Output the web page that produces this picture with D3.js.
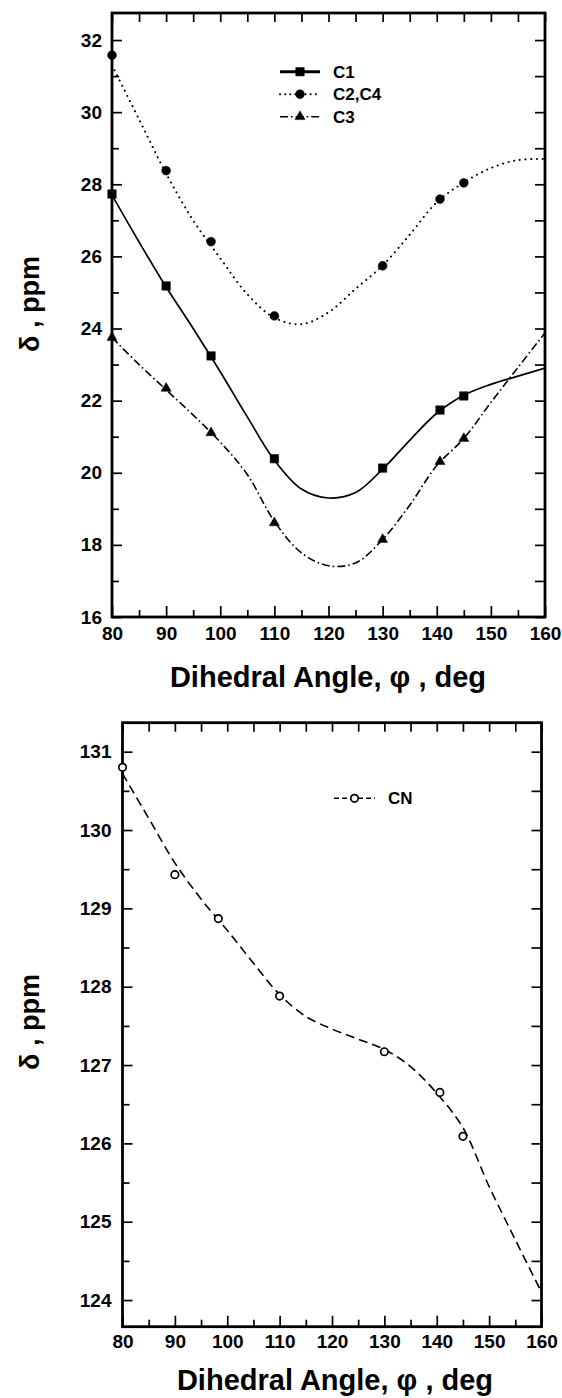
<!DOCTYPE html>
<html>
<head>
<meta charset="utf-8">
<script src="https://cdn.jsdelivr.net/npm/d3@7"></script>
<style>
  html, body { margin: 0; padding: 0; background: #fff; }
  svg { display: block; }
  text { font-family: "Liberation Sans", Arial, Helvetica, sans-serif; fill: #000; }
</style>
</head>
<body>
<svg id="chart" width="562" height="1398"></svg>
<script>
// ---- data -------------------------------------------------------------
// Dihedral angles (deg) at which shifts were computed
const angles = [80, 90, 98.3, 110, 130, 140.6, 145];

// 13C shifts (ppm), upper panel
const c1Values  = [27.73, 25.18, 23.24, 20.39, 20.13, 21.74, 22.13];
const c24Values = [31.58, 28.38, 26.41, 24.35, 25.74, 27.59, 28.04];
const c3Values  = [23.75, 22.34, 21.11, 18.61, 18.15, 20.31, 20.95];

// 13C shift of CN (ppm), lower panel
const cnValues = [130.80, 129.43, 128.87, 127.88, 127.17, 126.65, 126.09];

// Smoothed fit curves, sampled every 5 deg
const fitAngles = [80, 85, 90, 95, 100, 105, 110, 115, 120, 125, 130, 135, 140, 145, 150, 155, 160];
const c1Fit  = [27.7, 26.4, 25.15, 24.0, 22.8, 21.55, 20.35, 19.55, 19.3, 19.45, 20.1, 20.9, 21.65, 22.15, 22.45, 22.68, 22.9];
const c24Fit = [31.3, 29.8, 28.3, 27.0, 25.95, 24.95, 24.3, 24.12, 24.45, 25.1, 25.75, 26.6, 27.5, 28.05, 28.45, 28.67, 28.7];
const c3Fit  = [23.75, 23.0, 22.3, 21.6, 20.85, 19.95, 18.65, 17.78, 17.42, 17.5, 18.15, 19.1, 20.2, 20.95, 21.95, 22.92, 23.88];
const cnFit  = [130.72, 130.15, 129.58, 129.12, 128.72, 128.3, 127.9, 127.62, 127.46, 127.33, 127.2, 126.98, 126.64, 126.2, 125.45, 124.77, 124.1];

// Series names
const topSeries = ["C1", "C2,C4", "C3"];
const bottomSeries = ["CN"];

// Tick values
const xMajorTicks = [80, 90, 100, 110, 120, 130, 140, 150, 160];
const xMinorTicks = [85, 95, 105, 115, 125, 135, 145, 155];
const topYMajor = [16, 18, 20, 22, 24, 26, 28, 30, 32];
const topYMinor = [17, 19, 21, 23, 25, 27, 29, 31];
const botYMajor = [124, 125, 126, 127, 128, 129, 130, 131];
const botYMinor = [124.5, 125.5, 126.5, 127.5, 128.5, 129.5, 130.5];

// ---- drawing ----------------------------------------------------------
const svg = d3.select("#chart");

function panel(cfg) {
  const { x, y } = cfg;
  const [x0, x1] = x.range();
  const [yb, yt] = y.range();
  const g = svg.append("g");

  // inward ticks on all four sides
  const tick = (axisGen, tx, ty, vals, size, pad, labels) => {
    const a = axisGen.tickValues(vals).tickSize(-size).tickPadding(pad);
    if (!labels) a.tickFormat("");
    const ag = g.append("g").attr("transform", `translate(${tx},${ty})`).call(a);
    ag.select(".domain").remove();
    ag.selectAll("line").attr("stroke", "#000").attr("stroke-width", 1.7);
    ag.selectAll("text")
      .style("font-size", "19px").style("font-weight", "bold")
      .style("font-family", "'Liberation Sans', Arial, sans-serif").attr("fill", "#000");
    return ag;
  };
  tick(d3.axisBottom(x), 0, yb, xMajorTicks, 11, cfg.xPad, true);
  tick(d3.axisBottom(x), 0, yb, xMinorTicks, 7, 0, false);
  tick(d3.axisTop(x), 0, yt, xMajorTicks.concat(xMinorTicks), 9, 0, false);
  tick(d3.axisLeft(y), x0, 0, cfg.yMajor, 10, cfg.yPad, true);
  tick(d3.axisLeft(y), x0, 0, cfg.yMinor, 7, 0, false);
  tick(d3.axisRight(y), x1, 0, cfg.yMajor.concat(cfg.yMinor), 10, 0, false);

  // frame
  g.append("rect")
    .attr("x", x0).attr("y", yt).attr("width", x1 - x0).attr("height", yb - yt)
    .attr("fill", "none").attr("stroke", "#000").attr("stroke-width", 2.8);

  // clip for curves
  const clipId = "clip" + cfg.id;
  svg.append("clipPath").attr("id", clipId)
    .append("rect").attr("x", x0).attr("y", yt).attr("width", x1 - x0).attr("height", yb - yt);

  const line = d3.line()
    .x(d => x(d[0])).y(d => y(d[1]))
    .curve(d3.curveCatmullRom.alpha(0.5));

  cfg.series.forEach(s => {
    g.append("path")
      .datum(fitAngles.map((a, i) => [a, s.fit[i]]))
      .attr("clip-path", `url(#${clipId})`)
      .attr("d", line)
      .attr("fill", "none").attr("stroke", "#000")
      .attr("stroke-width", s.width)
      .attr("stroke-linecap", s.cap || "butt")
      .attr("stroke-dasharray", s.dash || null);

    g.selectAll(null)
      .data(angles.map((a, i) => [a, s.values[i]]))
      .join("path")
      .attr("transform", d => `translate(${x(d[0])},${y(d[1])})`)
      .attr("d", d3.symbol(s.symbol, s.size)())
      .attr("fill", s.open ? "#fff" : "#000")
      .attr("stroke", "#000").attr("stroke-width", s.open ? 1.7 : 0.5);
  });

  // legend
  cfg.series.forEach((s, i) => {
    const ly = cfg.legend.y + i * cfg.legend.dy;
    const lg = g.append("g");
    lg.append("line")
      .attr("x1", cfg.legend.x).attr("x2", cfg.legend.x + cfg.legend.len)
      .attr("y1", ly).attr("y2", ly)
      .attr("stroke", "#000").attr("stroke-width", s.legendWidth || s.width)
      .attr("stroke-linecap", s.cap || "butt")
      .attr("stroke-dasharray", s.legendDash || s.dash || null);
    lg.append("path")
      .attr("transform", `translate(${cfg.legend.x + cfg.legend.len / 2},${ly})`)
      .attr("d", d3.symbol(s.symbol, s.size)())
      .attr("fill", s.open ? "#fff" : "#000")
      .attr("stroke", "#000").attr("stroke-width", s.open ? 1.7 : 0.5);
    lg.append("text")
      .attr("x", cfg.legend.textX).attr("y", ly).attr("dy", "0.36em")
      .style("font-size", "17px").style("font-weight", "bold")
      .text(s.name);
  });

  // axis titles
  g.append("text")
    .attr("x", cfg.xTitle[0]).attr("y", cfg.xTitle[1])
    .attr("text-anchor", "middle")
    .style("font-size", "29px").style("font-weight", "bold")
    .text("Dihedral Angle, φ , deg");
  g.append("text")
    .attr("transform", `translate(${cfg.yTitle[0]},${cfg.yTitle[1]}) rotate(-90)`)
    .attr("text-anchor", "middle")
    .style("font-size", "27px").style("font-weight", "bold")
    .text("δ , ppm");
}

// upper panel: C1, C2/C4, C3
panel({
  id: "top",
  x: d3.scaleLinear().domain([80, 160]).range([112, 545]),
  y: d3.scaleLinear().domain([16, 32.75]).range([617, 13]),
  yMajor: topYMajor, yMinor: topYMinor,
  xPad: 10, yPad: 10,
  xTitle: [328, 687], yTitle: [39, 304],
  legend: { x: 280, len: 40, y: 71.7, dy: 22.5, textX: 333 },
  series: [
    { name: topSeries[0], values: c1Values, fit: c1Fit, symbol: d3.symbolSquare, size: 72, width: 1.7, legendWidth: 3 },
    { name: topSeries[1], values: c24Values, fit: c24Fit, symbol: d3.symbolCircle, size: 62, width: 2, cap: "round", dash: "0.1,5.6", legendDash: "0.1,5" },
    { name: topSeries[2], values: c3Values, fit: c3Fit, symbol: d3.symbolTriangle, size: 44, width: 1.6, dash: "8,3,1.6,3" }
  ]
});

// lower panel: CN
panel({
  id: "bottom",
  x: d3.scaleLinear().domain([80, 160]).range([122.5, 541.5]),
  y: d3.scaleLinear().domain([123.66, 131.37]).range([1326.7, 722.7]),
  yMajor: botYMajor, yMinor: botYMinor,
  xPad: 8, yPad: 11,
  xTitle: [335, 1390], yTitle: [39, 1022],
  legend: { x: 334, len: 41, y: 798.3, dy: 22, textX: 388 },
  series: [
    { name: bottomSeries[0], values: cnValues, fit: cnFit, symbol: d3.symbolCircle, size: 44, width: 1.6, dash: "9,5", legendDash: "5,3", open: true }
  ]
});
</script>
</body>
</html>
